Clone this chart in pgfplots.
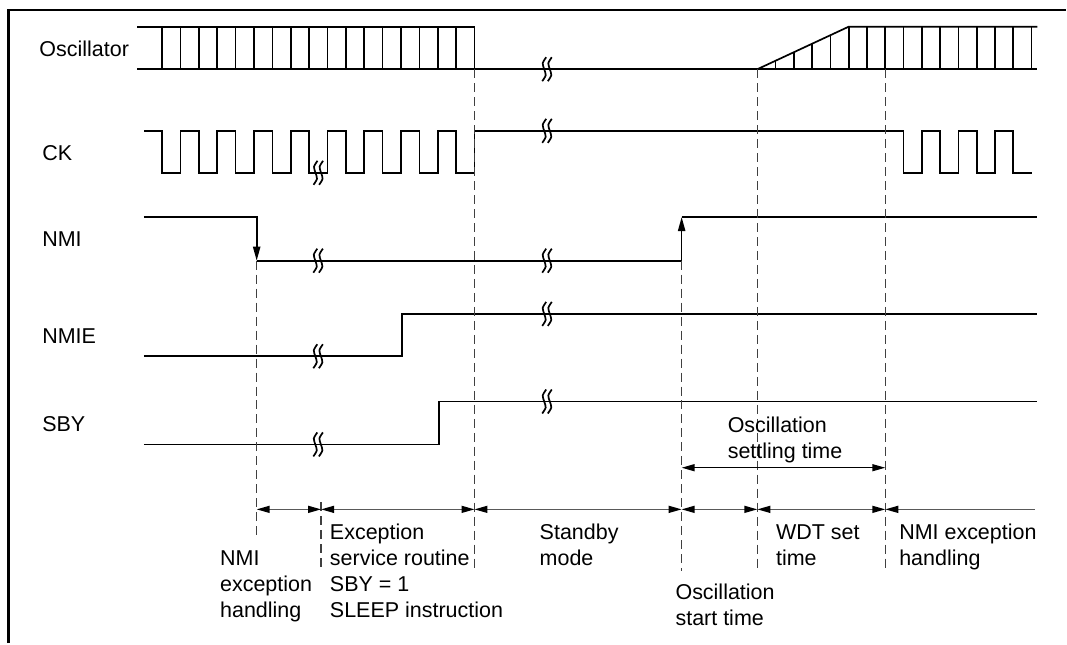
\documentclass[border=0pt]{standalone}
\usepackage{pgfplots}
\pgfplotsset{compat=1.18}
\usepackage{pgfplotstable}
\usepackage{fontspec}
\setmainfont{Liberation Sans}
\usetikzlibrary{arrows.meta}

\pgfplotstableread{
dx dy
2 -12
-1.5 -6
0 0
1.5 6
-2 12
}\brkshape

\newcommand\brk[2]{%
  \addplot[sig, smooth] table[x expr=\thisrow{dx}+#1-2.8, y expr=\thisrow{dy}+#2]{\brkshape};
  \addplot[sig, smooth] table[x expr=\thisrow{dx}+#1+2.8, y expr=\thisrow{dy}+#2]{\brkshape};
}

\begin{document}
\begin{tikzpicture}[
  sig/.style={black, line width=0.85pt},
  dsh/.style={black!75, line width=0.7pt, dash pattern=on 4.5pt off 2.5pt},
  arr/.style={black!65, line width=0.7pt},
  tip/.style={black, line width=0.7pt},
  lab/.style={inner sep=0pt, font=\fontsize{10.75}{13}\selectfont},
]
\begin{axis}[
  x=0.5pt, y=0.5pt, y dir=reverse,
  xmin=0, xmax=1067, ymin=0, ymax=644,
  hide axis, clip=false,
  unbounded coords=jump,
]
% bounding area
\addplot[draw=none] coordinates {(0,0) (1067,644)};
% frame (top and left edges)
\addplot[black, line width=1.35pt] coordinates {(8.3,644) (8.3,10) (1067,10)};

% ---------------- Oscillator ----------------
\addplot[sig] coordinates {(137.5,26.7) (475.1,26.7)};
\addplot[sig] coordinates {(137.5,69.3) (1038.7,69.3)};
\addplot[sig] coordinates {
(162.3,69.3)(162.3,26.7)(180.7,26.7)(180.7,69.3)(199.1,69.3)(199.1,26.7)
(217.5,26.7)(217.5,69.3)(235.9,69.3)(235.9,26.7)(254.3,26.7)(254.3,69.3)
(272.7,69.3)(272.7,26.7)(291.1,26.7)(291.1,69.3)(309.5,69.3)(309.5,26.7)
(327.9,26.7)(327.9,69.3)(346.3,69.3)(346.3,26.7)(364.7,26.7)(364.7,69.3)
(383.1,69.3)(383.1,26.7)(401.5,26.7)(401.5,69.3)(419.9,69.3)(419.9,26.7)
(438.3,26.7)(438.3,69.3)(456.7,69.3)(456.7,26.7)(475.1,26.7)(475.1,69.3)};
\addplot[sig] coordinates {(758.3,69.3) (849.8,26.7) (1038.7,26.7)};
\addplot[sig] coordinates {
(776.6,69.3)(776.6,60.8)(776.6,nan)
(794.9,69.3)(794.9,52.3)(794.9,nan)
(813.2,69.3)(813.2,43.7)(813.2,nan)
(831.5,69.3)(831.5,35.2)(831.5,nan)
(849.8,69.3)(849.8,26.7)(849.8,nan)
(868.1,69.3)(868.1,26.7)(868.1,nan)
(886.4,69.3)(886.4,26.7)(886.4,nan)
(904.7,69.3)(904.7,26.7)(904.7,nan)
(923.0,69.3)(923.0,26.7)(923.0,nan)
(941.3,69.3)(941.3,26.7)(941.3,nan)
(959.6,69.3)(959.6,26.7)(959.6,nan)
(977.9,69.3)(977.9,26.7)(977.9,nan)
(996.2,69.3)(996.2,26.7)(996.2,nan)
(1014.5,69.3)(1014.5,26.7)(1014.5,nan)
(1032.8,69.3)(1032.8,26.7)};

% ---------------- CK ----------------
\addplot[sig] coordinates {
(144.5,131)(162.3,131)(162.3,173)(180.7,173)(180.7,131)(199.1,131)(199.1,173)
(217.5,173)(217.5,131)(235.9,131)(235.9,173)(254.3,173)(254.3,131)(272.7,131)
(272.7,173)(291.1,173)(291.1,131)(309.5,131)(309.5,173)(327.9,173)(327.9,131)
(346.3,131)(346.3,173)(364.7,173)(364.7,131)(383.1,131)(383.1,173)(401.5,173)
(401.5,131)(419.9,131)(419.9,173)(438.3,173)(438.3,131)(456.7,131)(456.7,173)
(475.1,173)(475.1,131)(904.7,131)(904.7,173)(923.0,173)(923.0,131)(941.3,131)
(941.3,173)(959.6,173)(959.6,131)(977.9,131)(977.9,173)(996.2,173)(996.2,131)
(1014.5,131)(1014.5,173)(1032.8,173)};

% ---------------- NMI ----------------
\addplot[sig, -{Triangle[length=7pt,width=3.6pt]}] coordinates {(144,217.3)(257,217.3)(257,261)};
\addplot[sig, -{Triangle[length=7pt,width=3.6pt]}] coordinates {(257,261)(682.5,261)(682.5,217.3)};
\addplot[sig] coordinates {(682.5,217.3)(1038.7,217.3)};

% ---------------- NMIE ----------------
\addplot[sig] coordinates {(144,356.7)(402.5,356.7)(402.5,314.3)(1038.7,314.3)};

% ---------------- SBY ----------------
\addplot[sig] coordinates {(144,445)(439.5,445)(439.5,402)(1038.7,402)};

% ---------------- break marks ----------------
\brk{547.7}{69.3}
\brk{318.7}{173}
\brk{547.7}{131}
\brk{318.5}{261}
\brk{547.7}{261}
\brk{318.5}{356.7}
\brk{547.7}{314.3}
\brk{318.5}{445}
\brk{547.7}{402}

% ---------------- dashed guides ----------------
\addplot[dsh] coordinates {(257,261)(257,538.3)};
\addplot[dsh] coordinates {(321.5,503)(321.5,571.7)};
\addplot[dsh] coordinates {(475.1,69.3)(475.1,571.7)};
\addplot[dsh] coordinates {(682.5,261)(682.5,571.7)};
\addplot[dsh] coordinates {(758.3,69.3)(758.3,571.7)};
\addplot[dsh] coordinates {(886.4,69.3)(886.4,571.7)};

% ---------------- interval arrows ----------------
\addplot[arr, {Triangle[length=6.5pt,width=3.5pt,fill=black,color=black]}-{Triangle[length=6.5pt,width=3.5pt,fill=black,color=black]}] coordinates {(257,510)(321.5,510)};
\addplot[arr, {Triangle[length=6.5pt,width=3.5pt,fill=black,color=black]}-{Triangle[length=6.5pt,width=3.5pt,fill=black,color=black]}] coordinates {(321.5,510)(475.1,510)};
\addplot[arr, {Triangle[length=6.5pt,width=3.5pt,fill=black,color=black]}-{Triangle[length=6.5pt,width=3.5pt,fill=black,color=black]}] coordinates {(475.1,510)(682.5,510)};
\addplot[arr, {Triangle[length=6.5pt,width=3.5pt,fill=black,color=black]}-{Triangle[length=6.5pt,width=3.5pt,fill=black,color=black]}] coordinates {(682.5,510)(758.3,510)};
\addplot[arr, {Triangle[length=6.5pt,width=3.5pt,fill=black,color=black]}-{Triangle[length=6.5pt,width=3.5pt,fill=black,color=black]}] coordinates {(758.3,510)(886.4,510)};
\addplot[arr, {Triangle[length=6.5pt,width=3.5pt,fill=black,color=black]}-] coordinates {(886.4,510)(1036.7,510)};
\addplot[tip, {Triangle[length=6.5pt,width=3.5pt]}-{Triangle[length=6.5pt,width=3.5pt]}] coordinates {(682.5,468.3)(886.4,468.3)};

% ---------------- labels ----------------
\node[lab, anchor=base east] at (axis cs:129.5,57) {Oscillator};
\node[lab, anchor=base west] at (axis cs:42,161) {CK};
\node[lab, anchor=base west] at (axis cs:42,247) {NMI};
\node[lab, anchor=base west] at (axis cs:42,344) {NMIE};
\node[lab, anchor=base west] at (axis cs:42,432) {SBY};

\node[lab, anchor=base west] at (axis cs:728.3,433.3) {Oscillation};
\node[lab, anchor=base west] at (axis cs:728.3,459.3) {settling time};

\node[lab, anchor=base west] at (axis cs:220,566) {NMI};
\node[lab, anchor=base west] at (axis cs:220,592.5) {exception};
\node[lab, anchor=base west] at (axis cs:220,618.7) {handling};

\node[lab, anchor=base west] at (axis cs:330,540) {Exception};
\node[lab, anchor=base west] at (axis cs:330,566) {service routine};
\node[lab, anchor=base west] at (axis cs:330,592.5) {SBY = 1};
\node[lab, anchor=base west] at (axis cs:330,618.7) {SLEEP instruction};

\node[lab, anchor=base west] at (axis cs:540,540) {Standby};
\node[lab, anchor=base west] at (axis cs:540,566) {mode};

\node[lab, anchor=base west] at (axis cs:676,600) {Oscillation};
\node[lab, anchor=base west] at (axis cs:676,626) {start time};

\node[lab, anchor=base west] at (axis cs:776.7,540) {WDT set};
\node[lab, anchor=base west] at (axis cs:776.7,566) {time};

\node[lab, anchor=base west] at (axis cs:900,540) {NMI exception};
\node[lab, anchor=base west] at (axis cs:900,566) {handling};
\end{axis}
\end{tikzpicture}
\end{document}
